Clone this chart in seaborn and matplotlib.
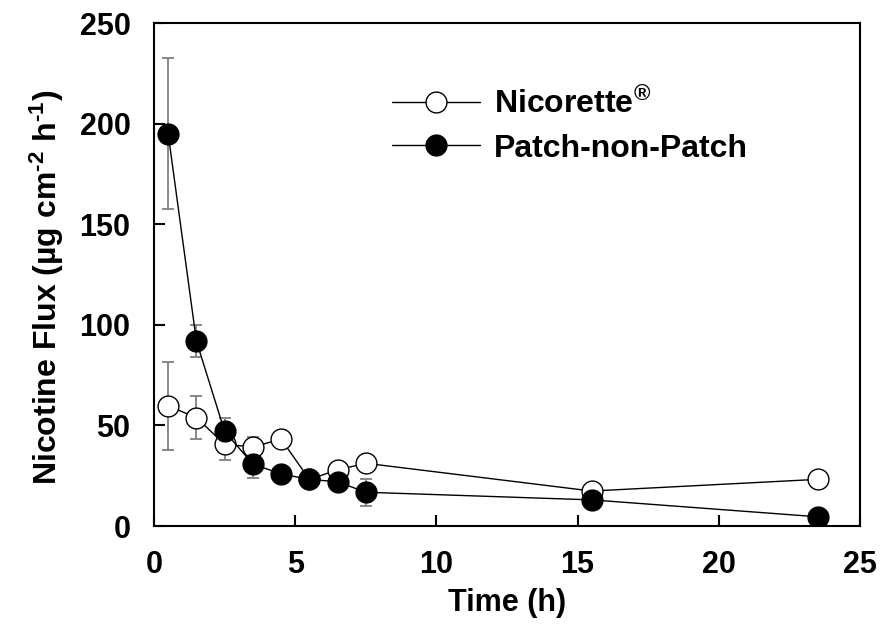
import matplotlib
matplotlib.use("Agg")
import matplotlib.pyplot as plt
import seaborn as sns
import pandas as pd
import numpy as np

time_h = [0.5, 1.5, 2.5, 3.5, 4.5, 5.5, 6.5, 7.5, 15.5, 23.5]
nicorette = [59.7, 53.9, 40.6, 39.3, 43.2, 23.2, 27.9, 31.2, 17.4, 23.2]
nicorette_err = [22.0, 10.5, 8.0, 5.2, 0.0, 0.0, 0.0, 0.0, 0.0, 0.0]
patch = [195.0, 92.0, 47.0, 30.8, 25.9, 23.2, 22.0, 16.8, 13.0, 4.6]
patch_err = [37.5, 8.0, 6.7, 7.0, 0.0, 0.0, 0.0, 6.6, 0.0, 0.0]
series_names = ["Nicorette$^{®}$", "Patch-non-Patch"]
x_ticks = [0, 5, 10, 15, 20, 25]
y_ticks = [0, 50, 100, 150, 200, 250]

sns.set_theme(style="ticks")
plt.rcParams["font.family"] = ["Liberation Sans", "DejaVu Sans"]
plt.rcParams["font.weight"] = "bold"
plt.rcParams["mathtext.fontset"] = "custom"
plt.rcParams["mathtext.rm"] = "Liberation Sans:bold"
plt.rcParams["mathtext.it"] = "Liberation Sans:bold"
plt.rcParams["mathtext.bf"] = "Liberation Sans:bold"
for key in ["text.color", "axes.labelcolor", "xtick.color", "ytick.color", "axes.edgecolor"]:
    plt.rcParams[key] = "black"

df = pd.DataFrame({
    "time": time_h * 2,
    "flux": nicorette + patch,
    "series": [series_names[0]] * len(time_h) + [series_names[1]] * len(time_h),
})

fig = plt.figure(figsize=(8.93, 6.26), dpi=100)
ax = fig.add_axes([0.1725, 0.1597, 0.7905, 0.8033])

ax.errorbar(time_h, nicorette, yerr=nicorette_err, fmt="none", ecolor="#808080",
            elinewidth=1.3, capsize=4, capthick=1.3, zorder=1)
ax.errorbar(time_h, patch, yerr=patch_err, fmt="none", ecolor="#808080",
            elinewidth=1.3, capsize=4, capthick=1.3, zorder=1)

for name, face in zip(series_names, ["white", "black"]):
    sub = df[df["series"] == name]
    sns.lineplot(data=sub, x="time", y="flux", ax=ax, color="black", lw=1.0,
                 marker="o", markersize=15, markerfacecolor=face,
                 markeredgecolor="black", markeredgewidth=1.0,
                 label=name, zorder=3, legend=False)

handles = ax.get_lines()
ax.legend(handles[-2:], series_names, loc="upper left",
          bbox_to_anchor=(0.319, 0.897), borderaxespad=0, frameon=False,
          handlelength=2.75, handletextpad=0.45, labelspacing=0.42,
          prop={"weight": "bold", "size": 23})

ax.set_xlim(0, 25)
ax.set_ylim(0, 250)
ax.set_xticks(x_ticks)
ax.set_yticks(y_ticks)
ax.tick_params(direction="in", length=8, width=1.5, labelsize=22, pad=17)
for lab in ax.get_xticklabels() + ax.get_yticklabels():
    lab.set_fontweight("bold")
for sp in ax.spines.values():
    sp.set_linewidth(1.5)
    sp.set_visible(True)
ax.set_xlabel("Time (h)", fontsize=22, fontweight="bold", labelpad=6)
ax.set_ylabel(r"Nicotine Flux (µg cm$^{\text{-2}}$ h$^{\text{-1}}$)", fontsize=23,
              fontweight="bold")
ax.yaxis.set_label_coords(-0.125, 0.475)

fig.savefig("out.png", dpi=100)
